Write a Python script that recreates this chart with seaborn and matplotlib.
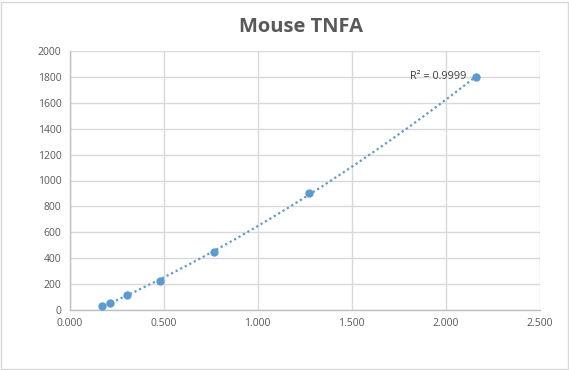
import numpy as np
import pandas as pd
import matplotlib
matplotlib.use('Agg')
import matplotlib.pyplot as plt
import seaborn as sns
from matplotlib.patches import Rectangle

# standard curve readings (OD vs concentration)
od = [0.172, 0.214, 0.303, 0.480, 0.766, 1.274, 2.161]
conc = [28.1, 56.25, 112.5, 225, 450, 900, 1800]
r2_label = 'R² = 0.9999'
title = 'Mouse TNFA'

df = pd.DataFrame({'od': od, 'conc': conc})

sns.set_style('white')
plt.rcParams['font.family'] = ['Open Sans', 'DejaVu Sans']

blue = '#5B9BD5'
grey_txt = '#595959'

fig = plt.figure(figsize=(5.69, 3.70), dpi=100)
ax = fig.add_axes([69.7 / 569, 1 - 310 / 370, (539.5 - 69.7) / 569, (310 - 51) / 370])

# polynomial (order 2) trendline like Excel
coef = np.polyfit(df['od'], df['conc'], 2)
xs = np.linspace(df['od'].min(), df['od'].max(), 200)
ax.plot(xs, np.polyval(coef, xs), color=blue, lw=1.6, linestyle=(0, (1, 1.3)), zorder=2)

sns.scatterplot(data=df, x='od', y='conc', ax=ax, color=blue, s=36, edgecolor=blue,
                linewidth=0, zorder=3)

ax.set_xlim(0, 2.5)
ax.set_ylim(0, 2000)
ax.set_xticks(np.arange(0, 2.51, 0.5))
ax.set_yticks(np.arange(0, 2001, 200))
ax.xaxis.set_major_formatter(matplotlib.ticker.FormatStrFormatter('%.3f'))
ax.set_xlabel('')
ax.set_ylabel('')
ax.grid(True, color='#D9D9D9', lw=1)
ax.set_axisbelow(True)
ax.tick_params(length=0, labelsize=7.5, labelcolor=grey_txt, pad=6)
for s in ['top', 'right']:
    ax.spines[s].set_visible(False)
for s in ['left', 'bottom']:
    ax.spines[s].set_color('#BFBFBF')
    ax.spines[s].set_linewidth(1)

ax.annotate(r2_label, xy=(df['od'].iloc[-1], df['conc'].iloc[-1]), xytext=(-7, 0),
            textcoords='offset points', ha='right', va='center', fontsize=7.8, color='#404040')

fig.text(301 / 569, 1 - 27 / 370, title, ha='center', va='center', fontsize=14.5,
         fontweight='bold', color=grey_txt)

fig.patches.append(Rectangle((0.5 / 569, 1.5 / 370), 567.5 / 569, 367 / 370, transform=fig.transFigure,
                             fill=False, edgecolor='#D9D9D9', lw=1))

fig.savefig('out.png', dpi=100)
